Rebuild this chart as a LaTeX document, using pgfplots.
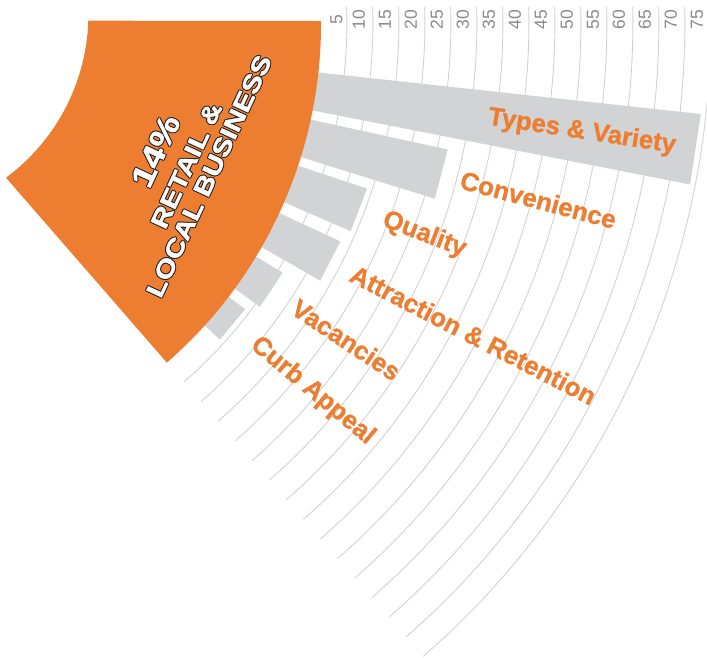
\documentclass[border=0pt]{standalone}
\usepackage{fontspec}
\setmainfont{Liberation Sans}
\newfontfamily\wedgefont[FakeStretch=1.22, FakeBold=1.5]{Liberation Sans}
\newfontfamily\labfont[FakeBold=1.0]{Liberation Sans}
\usepackage{pgfplots}
\usepackage{pgfplotstable}
\pgfplotsset{compat=1.18}
\definecolor{orangec}{HTML}{ED7D31}
\definecolor{barc}{HTML}{D1D3D4}
\definecolor{gridc}{HTML}{D2D2D2}
\definecolor{tickc}{HTML}{8A8A8A}
\tikzset{
  tl/.style={rotate=90, text=tickc, font=\fontsize{17.5}{20}\selectfont, inner sep=0pt},
  lab/.style={text=orangec, font=\labfont\fontsize{25.7}{28}\selectfont\bfseries, inner sep=0pt},
  wt/.style={rotate=65, inner sep=0pt, font=\wedgefont\bfseries}}

% bars: start angle, end angle (degrees below horizontal), value
\pgfplotstableread{
a0 a1 v
6.2 11.1 74
12.3 17.25 27
18.4 23.4 14
24.9 29.8 13
31.2 36.1 6
37.4 42.2 4
}\bars

\begin{document}
\begin{tikzpicture}
\begin{axis}[name=ax, hide axis, x=1pt, y=1pt, xmin=128, xmax=835, ymin=-634, ymax=24, clip=true]
% grid arcs
\pgfplotsinvokeforeach{5,10,...,75}{
 \draw[gridc, line width=0.9pt] (axis cs:0,0) ++({asin(17/(448.9+5.2*#1))}:{(448.9+5.2*#1)*1pt})
   arc[start angle={asin(17/(448.9+5.2*#1))}, end angle=-48.95, radius={(448.9+5.2*#1)*1pt}];
}
% bars
\pgfplotsforeachungrouped \i in {0,...,5}{%
 \pgfplotstablegetelem{\i}{a0}\of\bars \pgfmathsetmacro\ta{-\pgfplotsretval}%
 \pgfplotstablegetelem{\i}{a1}\of\bars \pgfmathsetmacro\tb{-\pgfplotsretval}%
 \pgfplotstablegetelem{\i}{v}\of\bars \pgfmathsetmacro\tr{448.9+5.2*\pgfplotsretval}%
 \pgfmathsetmacro\xa{397*cos(\ta)}\pgfmathsetmacro\ya{397*sin(\ta)}%
 \pgfmathsetmacro\xb{\tr*cos(\ta)}\pgfmathsetmacro\yb{\tr*sin(\ta)}%
 \pgfmathsetmacro\xc{\tr*cos(\tb)}\pgfmathsetmacro\yc{\tr*sin(\tb)}%
 \pgfmathsetmacro\xd{397*cos(\tb)}\pgfmathsetmacro\yd{397*sin(\tb)}%
 \edef\doplot{\noexpand\addplot[draw=none, fill=barc] coordinates {(\xa,\ya) (\xb,\yb) (\xc,\yc) (\xd,\yd)};}%
 \doplot
}
% orange wedge
\fill[orangec] (axis cs:216.3,3.3) -- (axis cs:449,2.98) arc[start angle=0.38, end angle=-48.95, radius=449pt]
  -- (axis cs:134,-153.7) arc[start angle=-53.53, end angle=-1.80, radius=203.15pt] -- cycle;
% bar labels
\node[lab, anchor=east, rotate=-8.65] at (axis cs:803.8,-122.3) {Types \& Variety};
\node[lab, anchor=west, rotate=-14.78] at (axis cs:588.9,-155.3) {Convenience};
\node[lab, anchor=west, rotate=-20.9] at (axis cs:511.5,-195.3) {Quality};
\node[lab, anchor=west, rotate=-27.35] at (axis cs:480.1,-248.3) {Attraction \& Retention};
\node[lab, anchor=west, rotate=-33.65] at (axis cs:422.4,-281.2) {Vacancies};
\node[lab, anchor=west, rotate=-39.8] at (axis cs:381.8,-318.1) {Curb Appeal};
% tick labels
\node[tl] at (axis cs:464.5,4) {5};
\node[tl] at (axis cs:486.9,4) {10};
\node[tl] at (axis cs:512.9,4) {15};
\node[tl] at (axis cs:538.9,4) {20};
\node[tl] at (axis cs:564.9,4) {25};
\node[tl] at (axis cs:590.9,4) {30};
\node[tl] at (axis cs:616.9,4) {35};
\node[tl] at (axis cs:642.9,4) {40};
\node[tl] at (axis cs:668.9,4) {45};
\node[tl] at (axis cs:694.9,4) {50};
\node[tl] at (axis cs:720.9,4) {55};
\node[tl] at (axis cs:746.9,4) {60};
\node[tl] at (axis cs:772.9,4) {65};
\node[tl] at (axis cs:798.9,4) {70};
\node[tl] at (axis cs:824.9,4) {75};
\coordinate (w1) at (axis cs:283.55,-127);
\coordinate (w2) at (axis cs:314.35,-141.4);
\coordinate (w3) at (axis cs:337,-152);
\end{axis}
\foreach \dx/\dy in {1/0,-1/0,0/1,0/-1,0.7/0.7,-0.7/0.7,0.7/-0.7,-0.7/-0.7}{
  \node[wt, text=black!85] at ([shift={(\dx pt,\dy pt)}]w1) {\fontsize{31}{34}\selectfont 14\%};
  \node[wt, text=black!85] at ([shift={(\dx pt,\dy pt)}]w2) {\fontsize{24.5}{26}\selectfont RETAIL \&};
  \node[wt, text=black!85] at ([shift={(\dx pt,\dy pt)}]w3) {\fontsize{24.5}{26}\selectfont LOCAL BUSINESS};
}
\node[wt, text=white] at (w1) {\fontsize{31}{34}\selectfont 14\%};
\node[wt, text=white] at (w2) {\fontsize{24.5}{26}\selectfont RETAIL \&};
\node[wt, text=white] at (w3) {\fontsize{24.5}{26}\selectfont LOCAL BUSINESS};
\pgfresetboundingbox
\path[use as bounding box] (ax.south west) rectangle (ax.north east);
\end{tikzpicture}
\end{document}
